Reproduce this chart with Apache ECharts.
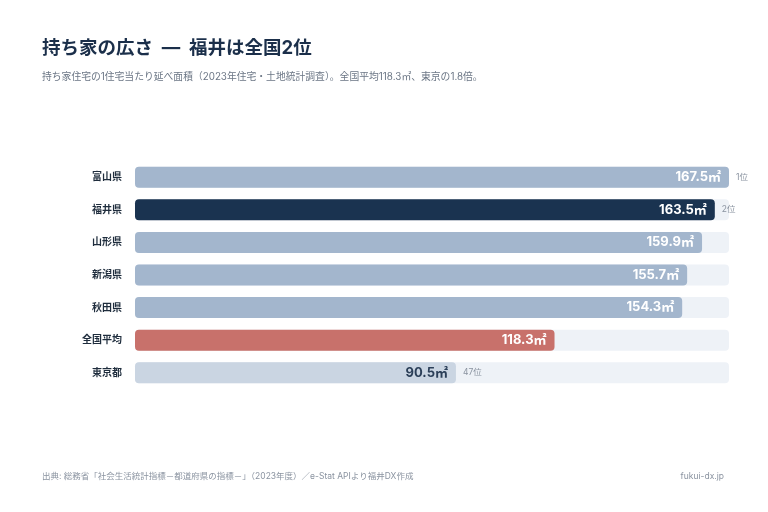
<!DOCTYPE html>
<html>
<head>
<meta charset="utf-8">
<script src="https://cdn.jsdelivr.net/npm/echarts@6/dist/echarts.min.js"></script>
<style>
  html, body { margin: 0; padding: 0; background: #fff; }
  #chart { width: 768px; height: 512px; }
</style>
</head>
<body>
<div id="chart"></div>
<script>
// 持ち家の広さ（上位5県・全国平均・東京都）
var prefs = ['富山県', '福井県', '山形県', '新潟県', '秋田県', '全国平均', '東京都']
var areas = [167.5, 163.5, 159.9, 155.7, 154.3, 118.3, 90.5]
var ranks = ['1位', '2位', '', '', '', '', '47位']

var FONT = 'Inter, "Noto Sans CJK JP", "Noto Sans", sans-serif'
var barColors = {
  '福井県': '#1a3350',
  '全国平均': '#c8716b',
  '東京都': '#cad5e2'
}

var chart = echarts.init(document.getElementById('chart'))

var mainData = areas.map(function (v, i) {
  var name = prefs[i]
  var item = {
    value: v,
    itemStyle: { color: barColors[name] || '#a3b6cd' }
  }
  if (name === '東京都') {
    item.label = { color: '#2b3f58' }
  }
  return item
})

chart.setOption({
  animation: false,
  textStyle: { fontFamily: FONT },
  title: [
    {
      text: '持ち家の広さ  —  福井は全国2位',
      left: 37, top: 34,
      textStyle: { fontSize: 18.5, fontWeight: 'bold', color: '#1b2f4a', fontFamily: FONT }
    },
    {
      text: '持ち家住宅の1住宅当たり延べ面積（2023年住宅・土地統計調査）。全国平均118.3㎡、東京の1.8倍。',
      left: 37, top: 67,
      textStyle: { fontSize: 9.8, fontWeight: 'normal', color: '#6b7685', fontFamily: FONT }
    },
    {
      text: '出典: 総務省「社会生活統計指標－都道府県の指標－」（2023年度）／e-Stat APIより福井DX作成',
      left: 37, top: 467,
      textStyle: { fontSize: 8.5, fontWeight: 'normal', color: '#8a93a0', fontFamily: FONT }
    },
    {
      text: 'fukui-dx.jp',
      right: 39, top: 467,
      textStyle: { fontSize: 8.5, fontWeight: 'normal', color: '#8a93a0', fontFamily: FONT }
    }
  ],
  grid: { left: 135, right: 39, top: 161, bottom: 123 },
  xAxis: {
    type: 'value',
    min: 0,
    max: 167.5,
    show: false
  },
  yAxis: {
    type: 'category',
    data: prefs,
    inverse: true,
    axisLine: { show: false },
    axisTick: { show: false },
    axisLabel: {
      margin: 13,
      fontSize: 10,
      fontWeight: 'bold',
      color: '#1f2d3d',
      fontFamily: FONT
    }
  },
  series: [
    {
      type: 'bar',
      data: mainData,
      barWidth: 21,
      showBackground: true,
      backgroundStyle: { color: '#eef2f7', borderRadius: 4 },
      itemStyle: { borderRadius: 4 },
      label: {
        show: true,
        position: 'insideRight',
        distance: 8,
        formatter: function (p) { return p.value.toFixed(1) + '㎡' },
        fontSize: 13,
        fontWeight: 'bold',
        color: '#ffffff',
        fontFamily: FONT
      },
      z: 2
    },
    {
      // 順位ラベル用（透明）
      type: 'bar',
      data: areas,
      barWidth: 21,
      barGap: '-100%',
      itemStyle: { color: 'rgba(0,0,0,0)' },
      silent: true,
      label: {
        show: true,
        position: 'right',
        distance: 7,
        formatter: function (p) { return ranks[p.dataIndex] },
        fontSize: 8.5,
        color: '#8a93a0',
        fontFamily: FONT
      },
      z: 3
    }
  ]
})
</script>
</body>
</html>
